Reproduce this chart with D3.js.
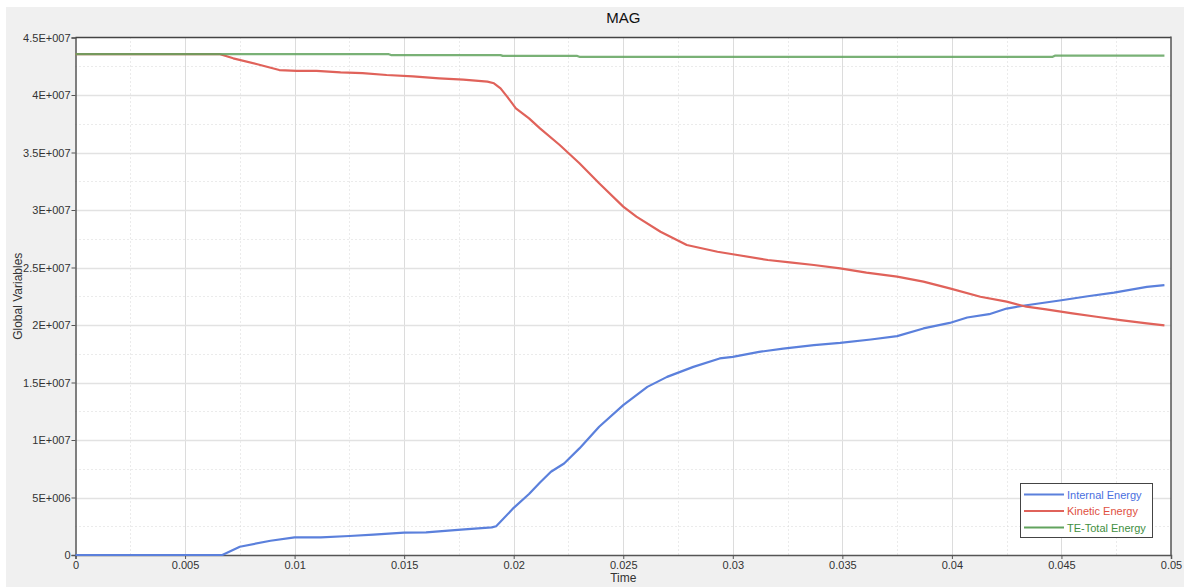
<!DOCTYPE html>
<html><head><meta charset="utf-8">
<script src="https://cdn.jsdelivr.net/npm/d3@7"></script>
<style>
html,body{margin:0;padding:0;background:#fff;}
svg{display:block;font-family:"Liberation Sans",Arial,sans-serif;}
</style></head>
<body><svg id="c" width="1184" height="587"></svg>
<script>
const title = "MAG";
const xTitle = "Time";
const yTitle = "Global Variables";
const seriesNames = ["Internal Energy", "Kinetic Energy", "TE-Total Energy"];
const xTicks = [0,0.005,0.01,0.015,0.02,0.025,0.03,0.035,0.04,0.045,0.05];
const xTickLabels = ["0","0.005","0.01","0.015","0.02","0.025","0.03","0.035","0.04","0.045","0.05"];
const yTicks = [0,5e6,1e7,1.5e7,2e7,2.5e7,3e7,3.5e7,4e7,4.5e7];
const yTickLabels = ["0","5E+006","1E+007","1.5E+007","2E+007","2.5E+007","3E+007","3.5E+007","4E+007","4.5E+007"];

const internalT = [0,0.0067,0.0075,0.0089,0.0100,0.0112,0.0125,0.0136,0.0150,0.0160,0.0176,0.0190,0.0192,0.0200,0.0207,0.0212,0.0217,0.0223,0.0230,0.0239,0.0250,0.0261,0.0270,0.0282,0.0294,0.0300,0.0312,0.0323,0.0337,0.0349,0.0363,0.0375,0.0387,0.0399,0.0407,0.0417,0.0425,0.0434,0.0450,0.0462,0.0474,0.0489,0.0497];
const internalV = [0,0,0.72e6,1.24e6,1.54e6,1.54e6,1.65e6,1.77e6,1.94e6,1.97e6,2.2e6,2.4e6,2.5e6,4.1e6,5.3e6,6.3e6,7.24e6,7.96e6,9.27e6,11.15e6,13.03e6,14.62e6,15.49e6,16.36e6,17.09e6,17.23e6,17.66e6,17.95e6,18.25e6,18.44e6,18.74e6,19.03e6,19.7e6,20.18e6,20.65e6,20.94e6,21.43e6,21.72e6,22.15e6,22.5e6,22.82e6,23.31e6,23.46e6];

const kineticT = [0,0.0066,0.0072,0.0083,0.0093,0.0101,0.0110,0.0121,0.0131,0.0142,0.0154,0.0166,0.0177,0.0188,0.0191,0.0194,0.0197,0.0201,0.0207,0.0212,0.0221,0.0230,0.0239,0.0250,0.0256,0.0267,0.0279,0.0293,0.0300,0.0316,0.0326,0.0337,0.0349,0.0361,0.0375,0.0387,0.0399,0.0413,0.0425,0.0434,0.0443,0.0455,0.0466,0.0477,0.0489,0.0497];
const kineticV = [43.55e6,43.55e6,43.19e6,42.67e6,42.17e6,42.09e6,42.09e6,41.97e6,41.91e6,41.74e6,41.62e6,41.45e6,41.33e6,41.16e6,41.02e6,40.58e6,39.86e6,38.84e6,37.97e6,37.1e6,35.65e6,34.06e6,32.32e6,30.29e6,29.42e6,28.11e6,26.96e6,26.37e6,26.15e6,25.65e6,25.45e6,25.22e6,24.93e6,24.55e6,24.2e6,23.77e6,23.19e6,22.46e6,22.03e6,21.59e6,21.36e6,21.01e6,20.72e6,20.43e6,20.14e6,19.97e6];

const totalT = [0,0.0143,0.0144,0.0194,0.0195,0.0229,0.0230,0.0446,0.0447,0.0497];
const totalV = [43.55e6,43.55e6,43.47e6,43.47e6,43.40e6,43.40e6,43.32e6,43.32e6,43.42e6,43.42e6];

const colors = ["#5b80dc","#e0625a","#62a35e"];
const textColors = ["#4a6fe0","#e0503f","#3f8f3f"];

const svg = d3.select("#c");
const L = 75.5, R = 1171, T = 37.5, B = 555;
const x = d3.scaleLinear().domain([0,0.05]).range([L,R]);
const y = d3.scaleLinear().domain([0,4.5e7]).range([B,T]);

svg.append("rect").attr("x",6).attr("y",7).attr("width",1178).attr("height",580).attr("fill","#f0f0f0");
svg.append("rect").attr("x",L).attr("y",T).attr("width",R-L).attr("height",B-T).attr("fill","#fff");

// minor grid
const xMinor = xTicks.slice(0,-1).map((d,i)=> (d+xTicks[i+1])/2);
const yMinor = yTicks.slice(0,-1).map((d,i)=> (d+yTicks[i+1])/2);
const g = svg.append("g");
g.selectAll(".vm").data(xMinor).join("line").attr("x1",d=>Math.round(x(d))+0.5).attr("x2",d=>Math.round(x(d))+0.5).attr("y1",T).attr("y2",B)
 .attr("stroke","#d6d6d6").attr("stroke-dasharray","1,3");
g.selectAll(".hm").data(yMinor).join("line").attr("y1",d=>Math.round(y(d))+0.5).attr("y2",d=>Math.round(y(d))+0.5).attr("x1",L).attr("x2",R)
 .attr("stroke","#d6d6d6").attr("stroke-dasharray","1,3");
g.selectAll(".vM").data(xTicks.slice(1,-1)).join("line").attr("x1",d=>Math.round(x(d))+0.5).attr("x2",d=>Math.round(x(d))+0.5).attr("y1",T).attr("y2",B)
 .attr("stroke","#dcdcdc");
g.selectAll(".hM").data(yTicks.slice(1,-1)).join("line").attr("y1",d=>Math.round(y(d))+0.5).attr("y2",d=>Math.round(y(d))+0.5).attr("x1",L).attr("x2",R)
 .attr("stroke","#e2e2e2").attr("stroke-width",1.5);

// axes
const xAxis = d3.axisBottom(x).tickValues(xTicks).tickFormat((d,i)=>xTickLabels[i]).tickSizeOuter(0).tickSize(4).tickPadding(2);
const yAxis = d3.axisLeft(y).tickValues(yTicks).tickFormat((d,i)=>yTickLabels[i]).tickSizeOuter(0).tickSize(4).tickPadding(1);
const gx = svg.append("g").attr("transform",`translate(0,${B})`).call(xAxis);
const gy = svg.append("g").attr("transform",`translate(${L},0)`).call(yAxis);
[gx,gy].forEach(a=>{
  a.select(".domain").attr("stroke","#555").attr("stroke-width",1.5);
  a.selectAll(".tick line").attr("stroke","#555");
  a.selectAll(".tick text").attr("fill","#333").style("font-size","11px").style("font-family","'Liberation Sans',Arial,sans-serif");
});
svg.append("line").attr("x1",L).attr("x2",R).attr("y1",T).attr("y2",T).attr("stroke","#444").attr("stroke-width",1.5);
svg.append("line").attr("x1",R).attr("x2",R).attr("y1",T-1).attr("y2",B).attr("stroke","#555").attr("stroke-width",1.5);

// lines
const datasets = [[internalT,internalV],[kineticT,kineticV],[totalT,totalV]];
const line = d3.line().x(d=>x(d[0])).y(d=>y(d[1]));
datasets.forEach((ds,i)=>{
  const pts = ds[0].map((t,j)=>[t,ds[1][j]]);
  svg.append("path").datum(pts).attr("d",line).attr("fill","none")
    .attr("stroke",colors[i]).attr("stroke-width",2.2).attr("stroke-linejoin","round")
    .attr("opacity", i===2?0.85:1);
});

// titles
svg.append("text").attr("x",(L+R)/2).attr("y",23).attr("text-anchor","middle").attr("fill","#111")
  .style("font-size","15px").text(title);
svg.append("text").attr("x",(L+R)/2).attr("y",582).attr("text-anchor","middle").attr("fill","#333")
  .style("font-size","12px").text(xTitle);
svg.append("text").attr("transform",`translate(22,${(T+B)/2}) rotate(-90)`).attr("text-anchor","middle").attr("fill","#333")
  .style("font-size","12px").text(yTitle);

// legend
const lg = svg.append("g");
lg.append("rect").attr("x",1020.5).attr("y",483.5).attr("width",132).attr("height",54).attr("fill","#fff").attr("stroke","#444");
seriesNames.forEach((n,i)=>{
  const yy = 494.5 + i*16.5;
  lg.append("line").attr("x1",1024).attr("x2",1064).attr("y1",yy).attr("y2",yy).attr("stroke",colors[i]).attr("stroke-width",2.2);
  lg.append("text").attr("x",1067).attr("y",yy+4).attr("fill",textColors[i]).style("font-size","11px").text(n);
});
</script></body></html>
